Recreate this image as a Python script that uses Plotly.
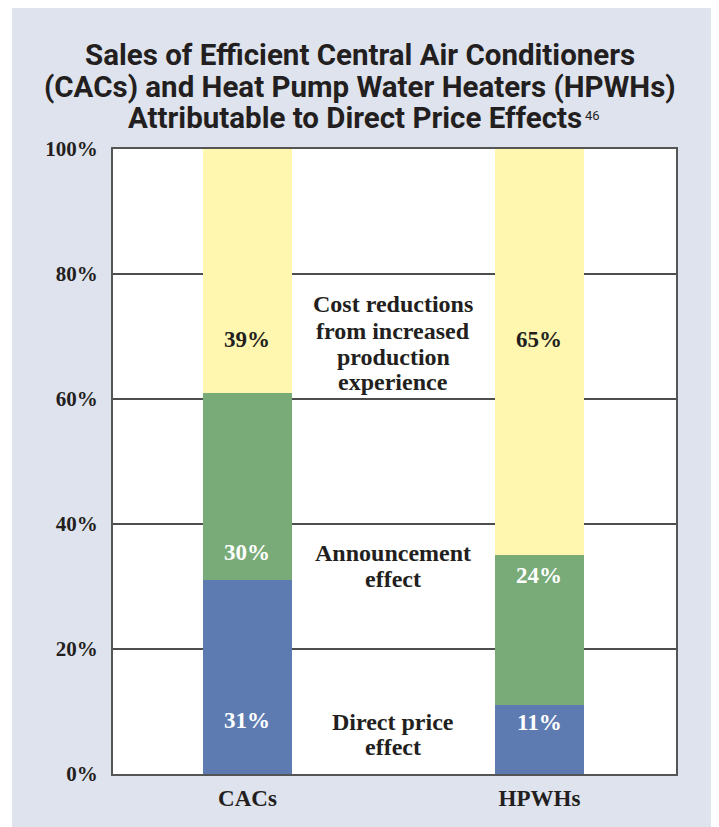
import plotly.graph_objects as go

categories = ["CACs", "HPWHs"]
direct_price = [31, 11]
announcement = [30, 24]
cost_reduction = [39, 65]
y_ticks = [0, 20, 40, 60, 80, 100]
y_tick_labels = ["0%", "20%", "40%", "60%", "80%", "100%"]
title_lines = [
    "Sales of Efficient Central Air Conditioners",
    "(CACs) and Heat Pump Water Heaters (HPWHs)",
    "Attributable to Direct Price Effects",
]
footnote = "46"

BLUE = "#5d7bb1"
GREEN = "#79ab78"
YELLOW = "#fff7b0"
PANEL = "#dfe3ee"
INK = "#231f20"
SERIF = "Liberation Serif"

fig = go.Figure()
for vals, col in [(direct_price, BLUE), (announcement, GREEN), (cost_reduction, YELLOW)]:
    fig.add_trace(go.Bar(x=categories, y=vals, marker=dict(color=col, line=dict(width=0)),
                         width=0.308, hoverinfo="skip"))

# value labels inside bars
label_rows = [
    (direct_price, [8.6, 8.2], "white"),
    (announcement, [35.5, 31.8], "white"),
    (cost_reduction, [69.6, 69.6], INK),
]
for vals, ys, col in label_rows:
    for c, v, yy in zip(categories, vals, ys):
        fig.add_annotation(x=c, y=yy, text=f"<b>{v}%</b>", showarrow=False,
                           font=dict(family=SERIF, size=23, color=col))

# middle explanatory labels, one line each
mid_lines = [
    ("Cost reductions", 75.2), ("from increased", 70.9), ("production", 66.8), ("experience", 62.8),
    ("Announcement", 35.4), ("effect", 31.2),
    ("Direct price", 8.3), ("effect", 4.3),
]
for txt, yy in mid_lines:
    fig.add_annotation(x=0.5, y=yy, xref="x", text="<b>" + txt + "</b>", showarrow=False,
                       font=dict(family=SERIF, size=24, color=INK))

# title, one annotation per line
title_x = [0.4387, 0.4387, 0.4298]
title_y = [1.1504, 1.0992, 1.0496]
for txt, xx, yy in zip(title_lines, title_x, title_y):
    fig.add_annotation(xref="paper", yref="paper", x=xx, y=yy, xanchor="center", yanchor="middle",
                       text="<b>" + txt + "</b>", showarrow=False,
                       font=dict(family="Roboto", size=29.5, color=INK))
# footnote marker after the last title line
fig.add_annotation(xref="paper", yref="paper", x=0.8366, y=1.0535, xanchor="left", yanchor="middle",
                   text=footnote, showarrow=False, borderpad=0,
                   font=dict(family="Roboto", size=13, color=INK))

# panel background and white plotting area
fig.add_shape(type="rect", xref="paper", yref="paper", x0=-0.1794, x1=1.071, y0=-0.09, y1=1.23,
              fillcolor=PANEL, line=dict(width=0), layer="below")
fig.add_shape(type="rect", xref="paper", yref="paper", x0=0, x1=1, y0=0, y1=1,
              fillcolor="white", line=dict(width=0), layer="below")

fig.update_layout(
    barmode="stack",
    width=711, height=819,
    margin=dict(l=105, r=43, t=141, b=53),
    paper_bgcolor="white",
    plot_bgcolor="white",
    showlegend=False,
    xaxis=dict(type="category", range=[-0.4606, 1.4675], showgrid=False,
               showline=True, linecolor="#555555", linewidth=2, mirror=True,
               ticks="", tickfont=dict(family=SERIF, size=23, color=INK),
               ticklabelstandoff=2, fixedrange=True,
               tickvals=categories, ticktext=[f"<b>{c}</b>" for c in categories]),
    yaxis=dict(range=[0, 100], tickvals=y_ticks, ticktext=[f"<b>{t}</b>" for t in y_tick_labels],
               showgrid=True, gridcolor="#4d4d4d", gridwidth=1.5,
               showline=True, linecolor="#555555", linewidth=2, mirror=True,
               ticks="", tickfont=dict(family=SERIF, size=21, color=INK),
               ticklabelstandoff=9, zeroline=False, fixedrange=True),
)

fig.write_html("out.html")
